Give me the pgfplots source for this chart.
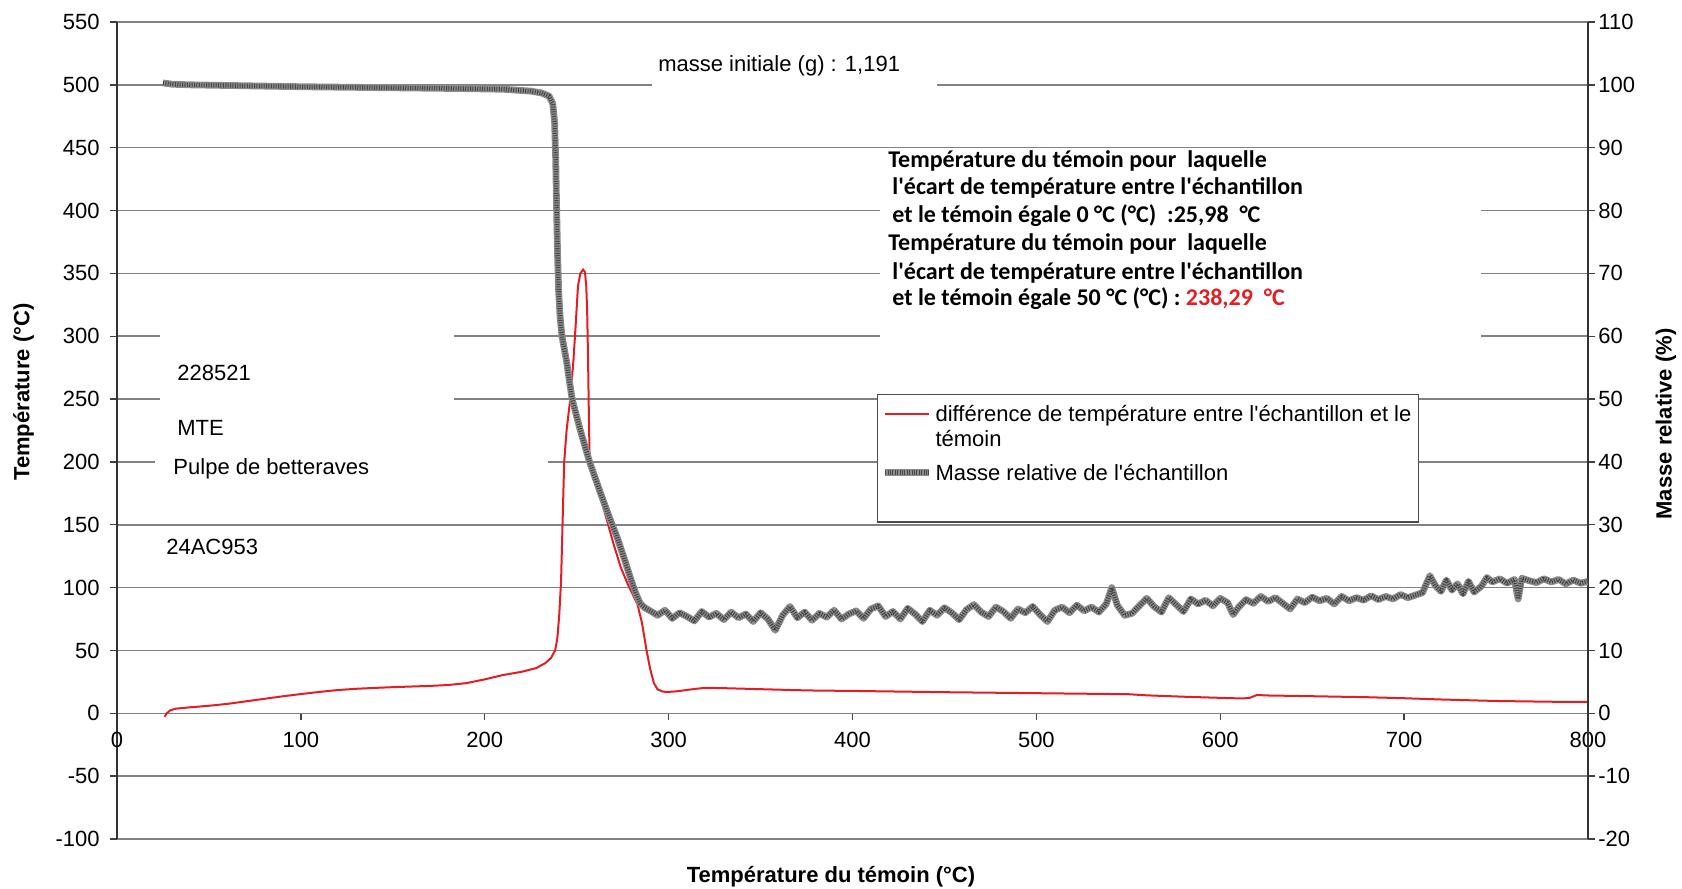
\documentclass[border=0pt]{standalone}
\usepackage{fontspec}
\setmainfont{Liberation Sans}[Ligatures=TeXOff]
\newfontfamily\calibri{Carlito}
\usepackage{pgfplots}
\usepackage{pgfplotstable}
\pgfplotsset{compat=1.18}

\definecolor{curvered}{RGB}{228,28,36}
\definecolor{gridgray}{RGB}{130,130,130}
\definecolor{massbase}{RGB}{140,140,140}
\definecolor{massdark}{RGB}{70,70,70}

% Relative mass of the sample (%) against reference temperature (°C)
\pgfplotstableread{
T m
25 100.3
30 100.1
40 100
60 99.9
80 99.8
100 99.7
130 99.6
160 99.5
190 99.4
210 99.3
225 99.0
231 98.7
235 98.2
237 97
238 94
238.6 88
239.1 80
239.6 73
240.2 67
241 63
242 60
244.5 56
247.5 50
252 45
257 40
263 35
268 31
272 28
276 24.5
279.5 21.3
282 19.2
284.5 17.5
287 16.8
290 16.3
294 15.6
298 16.4
302 15.1
306 16.0
310 15.4
314 14.7
318 16.2
322 15.3
326 15.9
330 14.9
334 16.1
338 15.2
342 15.8
346 14.6
350 16.0
354 15.0
358 13.2
362 15.6
366 17.0
370 15.2
374 16.1
378 14.8
382 15.9
386 15.3
390 16.4
394 15.0
398 15.8
402 16.3
406 15.1
410 16.6
414 17.1
418 15.4
422 16.2
426 15.0
430 16.7
434 15.8
438 14.6
442 16.4
446 15.6
450 16.8
454 16.0
458 14.9
462 16.5
466 17.3
470 16.1
474 15.4
478 16.9
482 16.2
486 15.1
490 16.6
494 16.0
498 17.0
502 15.7
506 14.6
510 16.4
514 16.9
518 16.0
522 17.2
526 16.3
530 16.9
534 16.1
538 17.4
541 20.0
544 17.2
548 15.6
552 15.9
556 17.1
560 18.3
564 17.0
568 16.1
572 18.4
576 17.3
580 16.2
584 18.2
588 17.4
592 18.0
596 17.1
600 18.3
604 17.6
607 15.7
610 16.9
614 18.1
618 17.5
622 18.6
626 17.8
630 18.4
634 17.5
638 16.6
642 18.2
646 17.6
650 18.5
654 17.9
658 18.3
662 17.4
666 18.6
670 17.9
674 18.4
678 18.0
682 18.7
686 18.1
690 18.6
694 18.2
698 18.9
702 18.4
706 18.8
710 19.2
714 21.9
717 20.3
720 19.4
723 21.2
726 19.6
729 20.6
732 19.0
735 21.0
738 19.3
742 20.2
745 21.6
748 20.9
752 21.4
756 20.7
760 21.3
762 18.2
764 21.5
768 21.1
772 20.8
776 21.4
780 20.9
784 21.3
788 20.6
792 21.2
796 20.7
800 21.0
}\massdata

\begin{document}
\begin{tikzpicture}[font=\fontsize{11bp}{13bp}\selectfont]
% Primary axis: temperature difference (left scale)
\begin{axis}[
  name=main,
  scale only axis, width=735.5bp, height=408.5bp,
  xmin=0, xmax=800, ymin=-100, ymax=550,
  xtick distance=100, ytick distance=50,
  axis x line=middle, axis y line=left,
  axis line style={-},
  x axis line style={gridgray, line width=0.8bp},
  y axis line style={black!80, line width=0.8bp},
  ymajorgrids, major grid style={gridgray, line width=0.8bp},
  tick align=outside, major tick length=3.5bp,
  tick style={black!75, line width=0.7bp},
  hide obscured x ticks=false,
  /pgf/number format/assume math mode=true,
  yticklabel style={anchor=east, inner sep=1bp, xshift=-4bp},
  xticklabel style={anchor=north, inner sep=1bp, yshift=-4.5bp},
  xlabel={\bfseries Température du témoin (°C)},
  ylabel={\bfseries Température (°C)},
  xlabel style={at={(axis description cs:0.4854,-0.0465)}, anchor=center},
  ylabel style={at={(axis description cs:-0.0635,0.547)}, anchor=center, rotate=0},
  clip=false,
]
\addplot[curvered, line width=1bp, forget plot] coordinates {
(25.98,-2.8) (27,0) (29,2.4) (32,3.7) (40,4.8) (50,6) (60,7.5) (70,9.5)
(80,11.5) (90,13.5) (100,15.3) (110,17) (120,18.5) (130,19.5) (140,20.2)
(150,20.8) (160,21.3) (170,21.8) (180,22.5) (190,24) (200,27) (210,30.5)
(220,33) (228,36) (233,40) (236,44) (238.29,50) (239.5,60) (240.5,78)
(241.5,105) (242.3,150) (243.2,200) (244.5,225) (246.5,250) (248.2,280)
(249.5,310) (250.7,340) (252,350) (253.5,353) (254.5,351) (255.2,340)
(255.7,320) (256.2,280) (256.6,240) (257,205) (258.5,195) (262,176)
(266,156) (270,135) (274,116) (278,102) (281,93) (283,87) (285.5,72)
(288,50) (290,35) (292,24) (294,19) (297,17.2) (300,17) (305,17.6)
(310,18.6) (315,19.5) (320,20.3) (330,20) (340,19.6) (350,19.2) (360,18.8)
(370,18.4) (380,18.1) (400,17.8) (450,16.8) (500,16) (550,15.2) (560,14.3)
(580,13.2) (600,12.3) (612,11.8) (616,12.3) (620,14.6) (625,14.2)
(650,13.6) (680,12.8) (700,12) (720,11) (750,9.8) (780,9.2) (800,9)
};
% white text boxes breaking the grid lines
\node[fill=white, inner sep=0, minimum width=147bp, minimum height=55bp, anchor=west] at (axis cs:23.4,260.7) {};
\node[fill=white, inner sep=0, minimum width=196.5bp, minimum height=21.5bp, anchor=west] at (axis cs:20.7,194.3) {};
\node[fill=white, inner sep=0, minimum width=142.5bp, minimum height=22bp, anchor=west] at (axis cs:290.9,515.3) {};
\node[fill=white, inner sep=0, minimum width=300.5bp, minimum height=96.5bp, anchor=west] at (axis cs:414.9,369.3) {};
% sample information
\node[anchor=west, inner sep=0] at (axis cs:32.6,271.1) {228521};
\node[anchor=west, inner sep=0] at (axis cs:32.6,227.3) {MTE};
\node[anchor=west, inner sep=0] at (axis cs:30.5,194.7) {Pulpe de betteraves};
\node[anchor=west, inner sep=0] at (axis cs:26.6,132.6) {24AC953};
\node[anchor=west, inner sep=0] at (axis cs:294.2,515.3) {masse initiale (g) : 1,191};
% characteristic temperatures
\begin{scope}[font=\calibri\bfseries\fontsize{12bp}{14bp}\selectfont]
\node[anchor=west, inner sep=0] at (axis cs:419.3,439.7) {Température du témoin pour\ \ laquelle};
\node[anchor=west, inner sep=0] at (axis cs:421.5,418.2) {l'écart de température entre l'échantillon};
\node[anchor=west, inner sep=0] at (axis cs:421.5,395.9) {et le témoin égale 0 °C (°C)\ \ :25,98\ \ °C};
\node[anchor=west, inner sep=0] at (axis cs:419.3,373.6) {Température du témoin pour\ \ laquelle};
\node[anchor=west, inner sep=0] at (axis cs:421.5,350.6) {l'écart de température entre l'échantillon};
\node[anchor=west, inner sep=0] at (axis cs:421.5,329.9) {et le témoin égale 50 °C (°C) : \textcolor{curvered}{238,29\ \ °C}};
\end{scope}
\end{axis}

% Secondary axis: relative mass (right scale)
\begin{axis}[
  scale only axis, width=735.5bp, height=408.5bp,
  xmin=0, xmax=800, ymin=-20, ymax=110,
  ytick distance=10,
  axis x line=none, axis y line=right,
  axis line style={-},
  y axis line style={black!80, line width=0.8bp},
  tick align=outside, major tick length=3.5bp,
  tick style={black!75, line width=0.7bp},
  /pgf/number format/assume math mode=true,
  yticklabel style={anchor=west, inner sep=1bp, xshift=0.5bp},
  ylabel={\bfseries Masse relative (\%)},
  ylabel style={at={(axis description cs:1.053,0.508)}, anchor=center, rotate=0},
  legend style={at={(0.5167,0.5447)}, anchor=north west, draw=black!70,
    line width=0.7bp, fill=white, inner xsep=2bp, inner ysep=3bp,
    row sep=2bp, nodes={inner sep=1.5bp}},
  legend cell align=left,
]
\addlegendimage{legend image code/.code={\draw[curvered, line width=1bp] (0bp,0bp) -- (22bp,0bp);}}
\addlegendentry{\begin{tabular}[t]{@{}l@{}}différence de température entre l'échantillon et le\\[-0.5bp]témoin\end{tabular}}
\addplot[massbase, line width=3.4bp, line join=round,
  legend image code/.code={
    \draw[massbase, line width=3.4bp] (0bp,-6.5bp) -- (22bp,-6.5bp);
    \draw[massdark, line width=2.2bp, dash pattern=on 0.5bp off 0.7bp] (0bp,-6.5bp) -- (22bp,-6.5bp);}]
  table[x=T, y=m] {\massdata};
\addlegendentry{\rule{0pt}{23bp}Masse relative de l'échantillon}
\addplot[massdark, line width=2.2bp, line join=round, dash pattern=on 0.5bp off 0.7bp, forget plot]
  table[x=T, y=m] {\massdata};
\addlegendimage{empty legend}
\addlegendentry{\rule{0pt}{8bp}}
\end{axis}

\pgfresetboundingbox
\path[use as bounding box] ([xshift=-58.5bp, yshift=-25bp]main.south west)
  rectangle ([xshift=47bp, yshift=11bp]main.north east);
\end{tikzpicture}
\end{document}
